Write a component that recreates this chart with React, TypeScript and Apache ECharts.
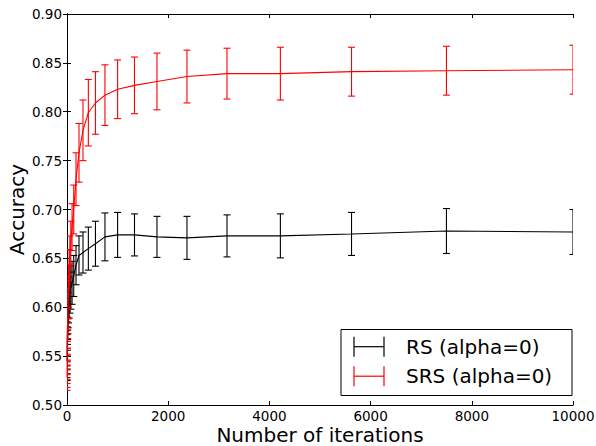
import React, { useEffect, useRef } from "react";
import * as echarts from "echarts";

const iterations = [1, 1.33, 1.78, 2.37, 3.16, 4.22, 5.62, 7.5, 10, 13.3, 17.8, 23.7, 31.6, 42.2, 56.2, 75, 100, 133, 178, 237, 316, 422, 562, 750, 1000, 1334, 1778, 2371, 3162, 4217, 5623, 7499, 10000];

const rsMean = [0.545, 0.548, 0.552, 0.556, 0.56, 0.565, 0.57, 0.576, 0.582, 0.588, 0.594, 0.6, 0.605, 0.61, 0.615, 0.62, 0.625, 0.632, 0.643, 0.653, 0.656, 0.66, 0.665, 0.672, 0.674, 0.674, 0.672, 0.671, 0.673, 0.673, 0.675, 0.678, 0.677];
const rsErr = [0.02, 0.02, 0.02, 0.02, 0.02, 0.02, 0.02, 0.02, 0.02, 0.021, 0.021, 0.021, 0.021, 0.021, 0.021, 0.022, 0.022, 0.021, 0.02, 0.02, 0.021, 0.022, 0.023, 0.0245, 0.023, 0.0215, 0.021, 0.022, 0.0215, 0.0225, 0.022, 0.023, 0.023];

const srsMean = [0.528, 0.532, 0.537, 0.542, 0.548, 0.555, 0.562, 0.57, 0.578, 0.588, 0.598, 0.61, 0.622, 0.636, 0.65, 0.665, 0.682, 0.7, 0.731, 0.758, 0.781, 0.799, 0.809, 0.817, 0.823, 0.827, 0.831, 0.836, 0.839, 0.839, 0.841, 0.842, 0.843];
const srsErr = [0.013, 0.014, 0.015, 0.016, 0.017, 0.018, 0.018, 0.019, 0.02, 0.02, 0.021, 0.022, 0.022, 0.023, 0.023, 0.023, 0.024, 0.025, 0.027, 0.03, 0.031, 0.034, 0.032, 0.031, 0.03, 0.029, 0.029, 0.027, 0.026, 0.027, 0.025, 0.025, 0.025];

const seriesNames = ["RS (alpha=0)", "SRS (alpha=0)"];
const seriesColors = ["#000000", "#ff0000"];

const FONT = "DejaVu Sans";

function errorBarSeries(mean: number[], err: number[], color: string) {
  return {
    type: "custom",
    xAxisIndex: 0,
    yAxisIndex: 0,
    clip: true,
    silent: true,
    encode: { x: 0, y: [1, 2] },
    data: iterations.map((x, i) => [x, mean[i] - err[i], mean[i] + err[i]]),
    renderItem: (params: any, api: any) => {
      const x = api.value(0);
      const lo = api.coord([x, api.value(1)]);
      const hi = api.coord([x, api.value(2)]);
      const w = 3.5;
      const style = { stroke: color, lineWidth: 1.1 };
      return {
        type: "group",
        children: [
          { type: "line", shape: { x1: lo[0], y1: lo[1], x2: hi[0], y2: hi[1] }, style },
          { type: "line", shape: { x1: lo[0] - w, y1: lo[1], x2: lo[0] + w, y2: lo[1] }, style },
          { type: "line", shape: { x1: hi[0] - w, y1: hi[1], x2: hi[0] + w, y2: hi[1] }, style },
        ],
      };
    },
  };
}

function lineSeries(mean: number[], color: string, name: string) {
  return {
    type: "line",
    name,
    xAxisIndex: 0,
    yAxisIndex: 0,
    showSymbol: false,
    symbol: "none",
    silent: true,
    lineStyle: { color, width: 1.1 },
    data: iterations.map((x, i) => [x, mean[i]]),
  };
}

function legendIcon(cx1: number, cx2: number, cy: number, h: number, color: string) {
  const style = { stroke: color, lineWidth: 1.2 };
  return [
    { type: "line", shape: { x1: cx1, y1: cy, x2: cx2, y2: cy }, style },
    { type: "line", shape: { x1: cx1, y1: cy - h / 2, x2: cx1, y2: cy + h / 2 }, style },
    { type: "line", shape: { x1: cx2, y1: cy - h / 2, x2: cx2, y2: cy + h / 2 }, style },
  ];
}

export default function App() {
  const ref = useRef<HTMLDivElement>(null);
  useEffect(() => {
    if (!ref.current) return;
    const chart = echarts.init(ref.current, undefined, { renderer: "svg" });
    const axisCommon = {
      axisLine: { show: true, lineStyle: { color: "#000", width: 1 } },
      axisTick: { show: true, inside: true, length: 4, lineStyle: { color: "#000", width: 1 } },
      splitLine: { show: false },
    };
    const option: any = {
      animation: false,
      backgroundColor: "#ffffff",
      grid: { left: 67, top: 14, right: 23, bottom: 41, containLabel: false, outerBoundsMode: "none" },
      xAxis: [
        {
          type: "value",
          position: "bottom",
          min: 0,
          max: 10000,
          interval: 2000,
          name: "Number of iterations",
          nameLocation: "middle",
          nameGap: 20,
          nameMoveOverlap: false,
          nameTextStyle: { fontFamily: FONT, fontSize: 20, color: "#000" },
          axisLabel: { fontFamily: FONT, fontSize: 13.5, color: "#000", margin: 4, formatter: (v: number) => String(v) },
          ...axisCommon,
        },
        {
          type: "value",
          position: "top",
          min: 0,
          max: 10000,
          interval: 2000,
          axisLabel: { show: false },
          ...axisCommon,
        },
      ],
      yAxis: [
        {
          type: "value",
          position: "left",
          min: 0.5,
          max: 0.9,
          interval: 0.05,
          name: "Accuracy",
          nameLocation: "middle",
          nameGap: 40,
          nameMoveOverlap: false,
          nameRotate: 90,
          nameTextStyle: { fontFamily: FONT, fontSize: 20, color: "#000" },
          axisLabel: {
            fontFamily: FONT,
            fontSize: 13.5,
            color: "#000",
            margin: 5,
            formatter: (v: number) => v.toFixed(2),
          },
          ...axisCommon,
        },
        {
          type: "value",
          position: "right",
          min: 0.5,
          max: 0.9,
          interval: 0.05,
          axisLabel: { show: false },
          ...axisCommon,
        },
      ],
      series: [
        lineSeries(rsMean, seriesColors[0], seriesNames[0]),
        errorBarSeries(rsMean, rsErr, seriesColors[0]),
        lineSeries(srsMean, seriesColors[1], seriesNames[1]),
        errorBarSeries(srsMean, srsErr, seriesColors[1]),
      ],
      graphic: [
        {
          type: "rect",
          shape: { x: 341, y: 329.5, width: 231, height: 66 },
          style: { fill: "#ffffff", stroke: "#000", lineWidth: 1 },
          z: 100,
        },
        ...legendIcon(354, 384, 346.7, 20, seriesColors[0]).map((e) => ({ ...e, z: 101 })),
        ...legendIcon(354, 384, 376.2, 20, seriesColors[1]).map((e) => ({ ...e, z: 101 })),
        {
          type: "text",
          x: 406,
          y: 346.7,
          z: 101,
          style: { text: seriesNames[0], fontFamily: FONT, fontSize: 20, fill: "#000", verticalAlign: "middle", align: "left" },
        },
        {
          type: "text",
          x: 406,
          y: 376.2,
          z: 101,
          style: { text: seriesNames[1], fontFamily: FONT, fontSize: 20, fill: "#000", verticalAlign: "middle", align: "left" },
        },
      ],
    };
    chart.setOption(option);
    return () => chart.dispose();
  }, []);
  return (
    <div
      ref={ref}
      style={{ position: "fixed", left: 0, top: 0, width: 596, height: 446, background: "#fff" }}
    />
  );
}
